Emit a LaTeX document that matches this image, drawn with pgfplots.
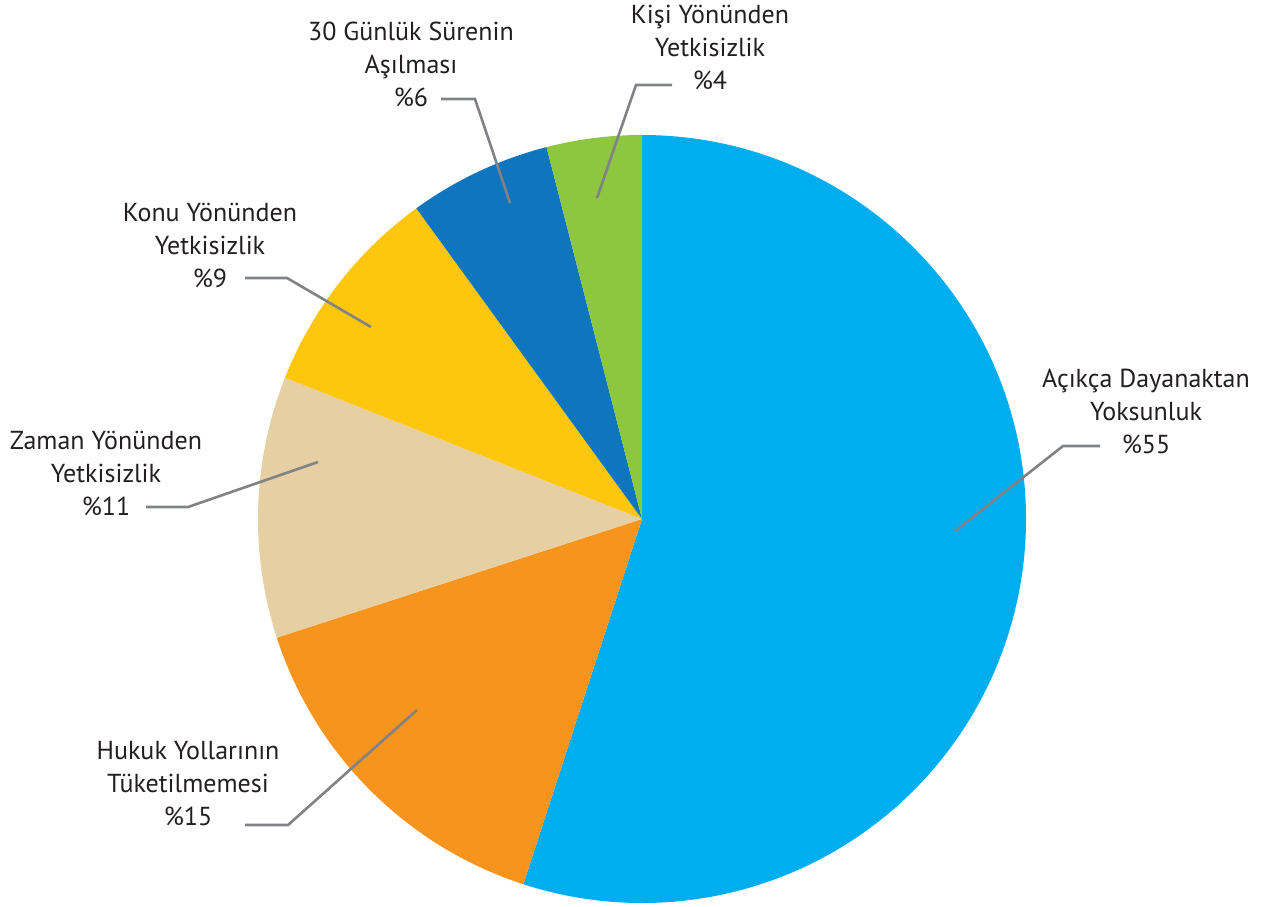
\documentclass[border=0pt]{standalone}
\usepackage{pgfplots}
\pgfplotsset{compat=1.18}
\usepackage{fontspec}
\setmainfont{PT Sans}

\definecolor{sliceA}{HTML}{00AEEF}
\definecolor{sliceB}{HTML}{F7941E}
\definecolor{sliceC}{HTML}{E5CFA3}
\definecolor{sliceD}{HTML}{FEC70E}
\definecolor{sliceE}{HTML}{0F75BC}
\definecolor{sliceF}{HTML}{8DC63F}
\definecolor{leadgray}{HTML}{808285}
\definecolor{txt}{HTML}{231F20}

\tikzset{
    lbl/.style={align=center, inner sep=0pt, text=txt,
        font=\fontsize{13}{16.5}\selectfont},
    leader/.style={draw=leadgray, line width=1.3pt},
}

\begin{document}
\begin{tikzpicture}
\begin{axis}[
    width=631pt, height=453pt, scale only axis,
    xmin=0, xmax=1262, ymin=0, ymax=906, y dir=reverse,
    hide axis, clip=false,
]
% slices, clockwise from 12 o'clock (percent values)
\def\ang{90}
\foreach \v/\c in {55/sliceA, 15/sliceB, 11/sliceC, 9/sliceD, 6/sliceE, 4/sliceF}{
    \pgfmathsetmacro\next{\ang-3.6*\v}
    \pgfmathsetmacro\sx{642+384*cos(\ang)}
    \pgfmathsetmacro\sy{519-384*sin(\ang)}
    \edef\temp{\noexpand\fill[\c] (axis cs:642,519) -- (axis cs:\sx,\sy)
        arc[start angle=\ang, end angle=\next, radius=192pt] -- cycle;}
    \temp
    \global\let\ang\next
}

% leader lines
\draw[leader] (axis cs:955,531) -- (axis cs:1063,446) -- (axis cs:1100,446);
\draw[leader] (axis cs:417,710) -- (axis cs:288,825) -- (axis cs:245,825);
\draw[leader] (axis cs:318,462) -- (axis cs:188,507) -- (axis cs:146,507);
\draw[leader] (axis cs:371,327) -- (axis cs:287,278) -- (axis cs:245,278);
\draw[leader] (axis cs:510,203) -- (axis cs:475,99) -- (axis cs:441,99);
\draw[leader] (axis cs:597,198) -- (axis cs:636,85) -- (axis cs:672,85);

% labels
\node[lbl] at (axis cs:1146,411) {Açıkça Dayanaktan\\Yoksunluk\\\%55};
\node[lbl] at (axis cs:188,784) {Hukuk Yollarının\\Tüketilmemesi\\\%15};
\node[lbl] at (axis cs:106,473) {Zaman Yönünden\\Yetkisizlik\\\%11};
\node[lbl] at (axis cs:210,245) {Konu Yönünden\\Yetkisizlik\\\%9};
\node[lbl] at (axis cs:411,64) {30 Günlük Sürenin\\Aşılması\\\%6};
\node[lbl] at (axis cs:710,47) {Kişi Yönünden\\Yetkisizlik\\\%4};
\end{axis}
\pgfresetboundingbox
\path (current axis.south west) rectangle (current axis.north east);
\end{tikzpicture}
\end{document}
